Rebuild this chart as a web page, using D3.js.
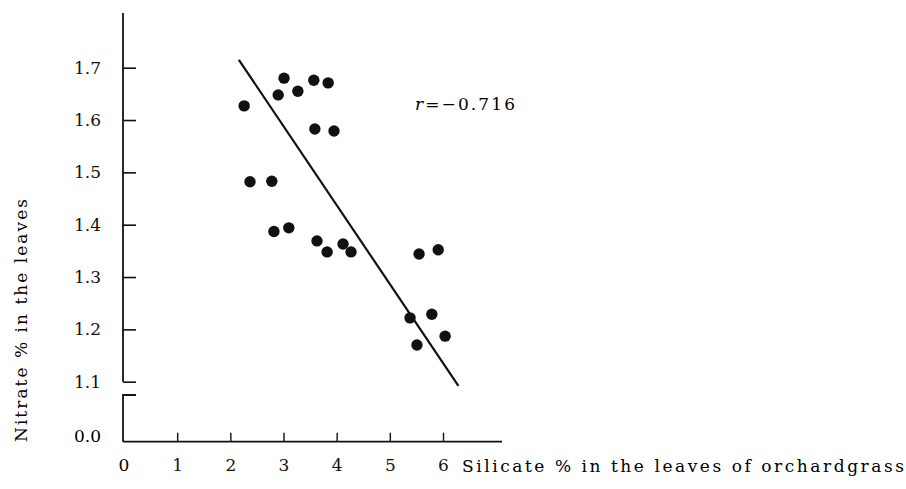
<!DOCTYPE html>
<html>
<head>
<meta charset="utf-8">
<script src="https://cdn.jsdelivr.net/npm/d3@7"></script>
<style>
  body { margin: 0; background: #fff; }
</style>
</head>
<body>
<svg width="906" height="489"></svg>
<script>
// silicate % (x) and nitrate % (y)
var silicate = [2.26, 2.37, 2.78, 2.82, 2.90, 3.01, 3.10, 3.27, 3.57, 3.59, 3.63,
                3.82, 3.84, 3.95, 4.12, 4.27, 5.38, 5.51, 5.55, 5.79, 5.91, 6.04]
var nitrate  = [1.627, 1.482, 1.483, 1.387, 1.648, 1.680, 1.394, 1.655, 1.676, 1.583, 1.369,
                1.348, 1.671, 1.579, 1.363, 1.348, 1.222, 1.170, 1.344, 1.229, 1.352, 1.187]
// fitted line end points
var lineX = [2.16, 6.29]
var lineY = [1.715, 1.092]
var xTicks = [1, 2, 3, 4, 5, 6]
var yTicks = [1.1, 1.2, 1.3, 1.4, 1.5, 1.6, 1.7]

var font = "'DejaVu Serif', 'Liberation Serif', serif"
var fs = "17px"
var svg = d3.select("svg")
var axisX0 = 123, axisY0 = 441.7

var xScale = d3.scaleLinear().domain([0, 6]).range([124, 443])
var yScale = d3.scaleLinear().domain([1.1, 1.7]).range([381.7, 67.7])

var points = silicate.map(function(s, i){ return {x: s, y: nitrate[i]}; })

// y axis (upper part, broken below 1.1)
var yAxis = d3.axisLeft(yScale)
              .tickValues(yTicks)
              .tickFormat(d3.format(".1f"))
              .tickSize(-13)
              .tickPadding(22)
var gy = svg.append("g")
            .attr("transform", "translate(" + axisX0 + ",0)")
            .call(yAxis)
gy.select(".domain").remove()
gy.selectAll("line").attr("stroke", "#111").attr("stroke-width", 1.6)
gy.selectAll("text").style("font-size", fs).style("font-family", font).attr("fill", "#111")

svg.append("line")
   .attr("x1", axisX0).attr("x2", axisX0)
   .attr("y1", 13).attr("y2", yScale(1.1))
   .attr("stroke", "#111").attr("stroke-width", 1.8)

// lower bracket of the break, down to zero
svg.append("path")
   .attr("d", "M" + (axisX0 + 13) + "," + 395 + "H" + axisX0 + "V" + axisY0)
   .attr("fill", "none").attr("stroke", "#111").attr("stroke-width", 1.8)

svg.append("text")
   .attr("x", axisX0 - 22).attr("y", 437)
   .attr("dy", "0.32em")
   .attr("text-anchor", "end")
   .style("font-size", fs).style("font-family", font)
   .text("0.0")

// x axis
var xAxis = d3.axisBottom(xScale)
              .tickValues(xTicks)
              .tickFormat(d3.format("d"))
              .tickSize(-9)
              .tickPadding(17)
var gx = svg.append("g")
            .attr("transform", "translate(0," + axisY0 + ")")
            .call(xAxis)
gx.select(".domain").remove()
gx.selectAll("line").attr("stroke", "#111").attr("stroke-width", 1.4)
gx.selectAll("text").style("font-size", fs).style("font-family", font).attr("fill", "#111")

svg.append("line")
   .attr("x1", axisX0).attr("x2", 502)
   .attr("y1", axisY0).attr("y2", axisY0)
   .attr("stroke", "#111").attr("stroke-width", 1.8)

svg.append("text")
   .attr("x", xScale(0)).attr("y", axisY0 + 17)
   .attr("dy", "0.71em")
   .attr("text-anchor", "middle")
   .style("font-size", fs).style("font-family", font)
   .text("0")

// regression line
var line = d3.line()
             .x(function(d){ return xScale(d[0]); })
             .y(function(d){ return yScale(d[1]); })
svg.append("path")
   .datum(lineX.map(function(v, i){ return [v, lineY[i]]; }))
   .attr("d", line)
   .attr("fill", "none")
   .attr("stroke", "#111")
   .attr("stroke-width", 2.2)

// points
svg.selectAll("circle")
   .data(points)
   .enter()
   .append("circle")
   .attr("cx", function(d){ return xScale(d.x); })
   .attr("cy", function(d){ return yScale(d.y); })
   .attr("r", 5.7)
   .attr("fill", "#111")

// labels
var rText = svg.append("text")
               .attr("x", 415).attr("y", 104)
               .attr("dy", "0.35em")
               .attr("textLength", 100)
               .attr("lengthAdjust", "spacing")
               .style("font-size", fs).style("font-family", font)
rText.append("tspan").style("font-style", "italic").text("r")
rText.append("tspan").text("=\u22120.716")

svg.append("text")
   .attr("x", 462).attr("y", 466)
   .attr("dy", "0.35em")
   .attr("textLength", 442)
   .attr("lengthAdjust", "spacing")
   .style("font-size", fs).style("font-family", font)
   .text("Silicate % in the leaves of orchardgrass")

svg.append("text")
   .attr("transform", "translate(21,442) rotate(-90)")
   .attr("dy", "0.35em")
   .attr("textLength", 243)
   .attr("lengthAdjust", "spacing")
   .style("font-size", fs).style("font-family", font)
   .text("Nitrate % in the leaves")
</script>
</body>
</html>
